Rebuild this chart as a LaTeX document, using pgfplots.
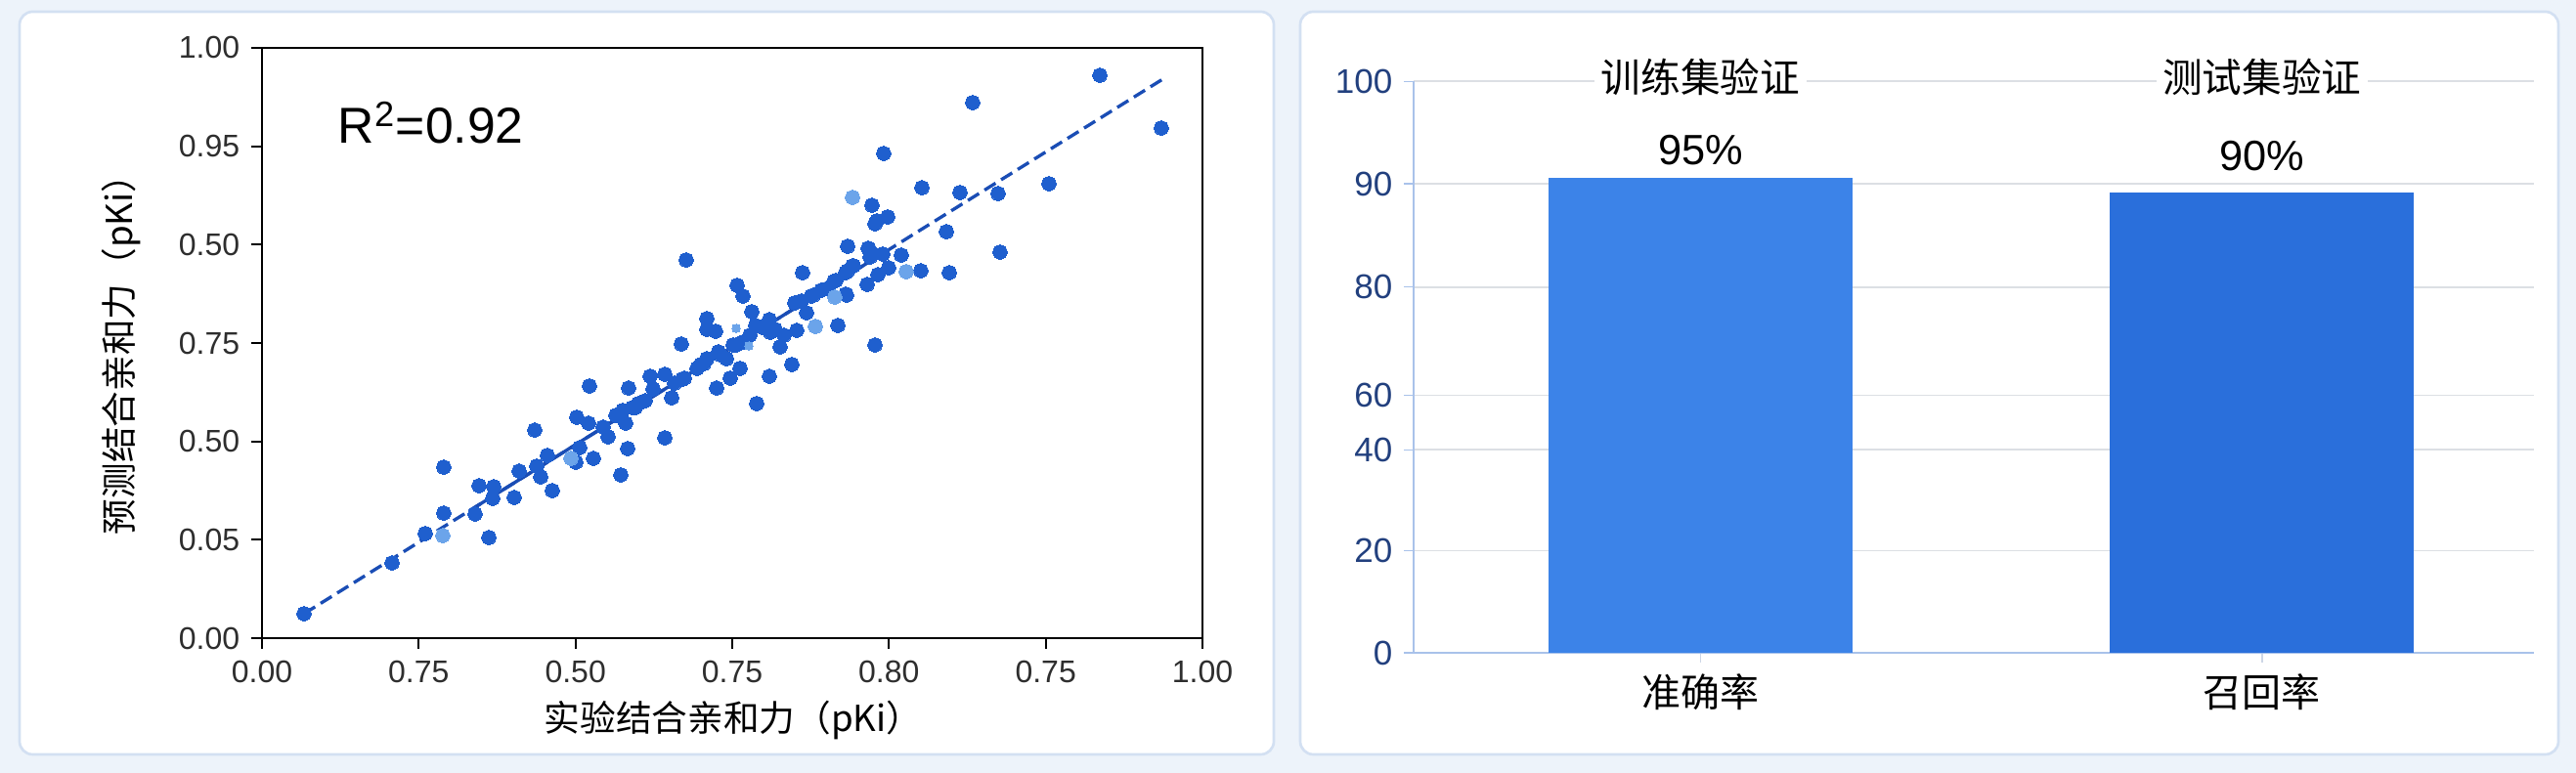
\documentclass[border=0pt]{standalone}
\usepackage{pgfplots}
\pgfplotsset{compat=1.18}
\usepackage{pgfplotstable}
\usepackage{fontspec}
\setmainfont{Liberation Sans}
\newfontfamily\cjk{Noto Sans CJK SC}
\definecolor{bgc}{HTML}{EDF3FA}
\definecolor{panelb}{HTML}{D3E0F2}
\definecolor{dotc}{HTML}{1F5FCE}
\definecolor{dotl}{HTML}{6BA4EA}
\definecolor{linec}{HTML}{1A4DB5}
\definecolor{barA}{HTML}{3C83E8}
\definecolor{barB}{HTML}{2A6FDB}
\definecolor{navy}{HTML}{22407E}
\definecolor{axblue}{HTML}{A9C2EA}
\definecolor{gridg}{HTML}{DCDFE4}

\pgfplotstableread{
x y
0.0447 0.0414
0.1383 0.1275
0.1736 0.1772
0.1933 0.2119
0.1933 0.2897
0.2266 0.2103
0.2412 0.1705
0.2308 0.2583
0.2464 0.2566
0.2453 0.2368
0.2682 0.2384
0.2734 0.2831
0.2900 0.3526
0.2921 0.2914
0.2963 0.2732
0.3087 0.2500
0.3035 0.3096
0.3347 0.3742
0.3378 0.3228
0.3337 0.2980
0.3472 0.3642
0.3524 0.3046
0.3482 0.4272
0.3628 0.3576
0.3680 0.3411
0.3815 0.2765
0.3888 0.3212
0.3898 0.4238
0.3867 0.3642
0.3836 0.3858
0.3971 0.3907
0.4075 0.4023
0.4127 0.4437
0.4158 0.4222
0.4283 0.3394
0.4283 0.4470
0.4356 0.4073
0.4470 0.4387
0.4459 0.4983
0.4511 0.6407
0.4667 0.4636
0.4730 0.4735
0.4834 0.4238
0.4854 0.4851
0.4979 0.4404
0.4938 0.4735
0.5042 0.4967
0.5083 0.4570
0.4730 0.5414
0.4730 0.5232
0.4823 0.5199
0.5052 0.5977
0.5114 0.5795
0.5208 0.5530
0.5249 0.5298
0.5187 0.5132
0.5260 0.3974
0.5395 0.4437
0.5395 0.5397
0.5405 0.5182
0.5509 0.4934
0.5551 0.5132
0.5634 0.4636
0.5686 0.5215
0.5665 0.5679
0.5790 0.5513
0.5748 0.6192
0.5863 0.5811
0.6019 0.5927
0.6123 0.5298
0.6081 0.6043
0.6216 0.5811
0.6227 0.6225
0.6289 0.6308
0.6227 0.6639
0.6435 0.5993
0.6518 0.4967
0.6455 0.6589
0.6466 0.6457
0.6549 0.6159
0.6601 0.6507
0.6663 0.6275
0.6798 0.6490
0.7006 0.6225
0.7308 0.6192
0.7277 0.6887
0.8909 0.9536
0.7557 0.9073
0.9563 0.8642
0.6611 0.8212
0.7017 0.7632
0.7422 0.7550
0.7827 0.7533
0.8368 0.7699
0.6486 0.7334
0.6653 0.7136
0.6538 0.7070
0.6518 0.7020
0.7848 0.6540
0.6445 0.6606
0.6102 0.6060
0.6206 0.5828
0.6206 0.6192
0.6279 0.6308
0.4626 0.4570
0.4699 0.4652
0.4875 0.4801
0.5010 0.4967
0.5114 0.5017
0.5322 0.5265
0.5457 0.5232
0.5738 0.5712
0.5842 0.5795
0.5946 0.5894
0.6497 0.6507
0.3940 0.3907
0.3763 0.3775
0.4002 0.3974
0.4387 0.4321
0.4491 0.4404
}\mainpts

\pgfplotstableread{
x y
0.1923 0.1738
0.3285 0.3046
0.5884 0.5281
0.6850 0.6209
0.6279 0.7467
0.6091 0.5778
}\lightpts

\pgfplotstableread{
x y
0.5042 0.5248
0.5177 0.4950
}\smallpts

\begin{document}
\begin{tikzpicture}
\path[use as bounding box] (0,0) rectangle (790.5pt,237.3pt);
\fill[bgc] (0,0) rectangle (790.5pt,237.3pt);
\filldraw[fill=white, draw=panelb, line width=0.8pt, rounded corners=4pt] (6pt,5.7pt) rectangle (390.9pt,233.7pt);
\filldraw[fill=white, draw=panelb, line width=0.8pt, rounded corners=4pt] (399pt,5.7pt) rectangle (785.1pt,233.7pt);

% ---------------- left: scatter ----------------
\begin{axis}[
  at={(80.4pt,41.4pt)}, anchor=south west, scale only axis,
  width=288.6pt, height=181.2pt,
  xmin=0, xmax=1, ymin=0, ymax=1,
  xtick={0,0.166667,0.333333,0.5,0.666667,0.833333,1},
  xticklabels={0.00,0.75,0.50,0.75,0.80,0.75,1.00},
  ytick={0,0.166667,0.333333,0.5,0.666667,0.833333,1},
  yticklabels={0.00,0.05,0.50,0.75,0.50,0.95,1.00},
  tick align=outside, tick pos=left, major tick length=3.3pt,
  axis line style={black, line width=0.6pt},
  tick style={black, line width=0.6pt},
  ticklabel style={font=\fontsize{9.6}{11}\selectfont, text=black!82},
  xlabel={\cjk 实验结合亲和力（pKi）},
  ylabel={\cjk 预测结合亲和力（pKi）},
  xlabel style={at={(axis description cs:0.501,-0.139)}, anchor=center, font=\fontsize{11}{13}\selectfont},
  ylabel style={at={(axis description cs:-0.1497,0.495)}, anchor=center, font=\fontsize{11}{13}\selectfont},
  clip=false,
]
\addplot[linec, line width=1pt, dash pattern=on 4pt off 2pt] coordinates {(0.0447,0.0414) (0.9595,0.9487)};
\addplot[linec, line width=1pt] coordinates {(0.2204,0.2157) (0.6601,0.6518)};
\addplot[only marks, mark=*, color=dotc, mark size=2.2pt, mark options={solid, draw=dotc, fill=dotc, line width=0pt}] table[x=x,y=y] {\mainpts};
\addplot[only marks, mark=*, color=dotl, mark size=2.2pt, mark options={solid, draw=dotl, fill=dotl, line width=0pt}] table[x=x,y=y] {\lightpts};
\addplot[only marks, mark=*, color=dotl, mark size=1.3pt, mark options={solid, draw=dotl, fill=dotl, line width=0pt}] table[x=x,y=y] {\smallpts};
\node[anchor=base west, font=\fontsize{15.5}{18}\selectfont] at (axis cs:0.0686,0.838) {R\textsuperscript{2}=0.92};
\end{axis}

% ---------------- right: bars ----------------
\begin{axis}[
  at={(433.8pt,36.9pt)}, anchor=south west, scale only axis,
  width=343.8pt, height=175.4pt,
  xmin=-0.511, xmax=1.484, ymin=0, ymax=100,
  ybar, bar width=93.3pt,
  xtick={0,1}, xticklabels={准确率,召回率},
  ytick={0,17.86,35.52,45.05,64.02,82.09,100},
  yticklabels={0,20,40,60,80,90,100},
  ymajorgrids, grid style={gridg, line width=0.5pt},
  axis x line*=bottom, axis y line*=left,
  x axis line style={axblue, line width=0.7pt},
  y axis line style={axblue, line width=0.4pt},
  tick align=outside, major tick length=3pt,
  ytick style={axblue, line width=0.4pt},
  xtick style={gridg!70!axblue, line width=0.4pt},
  yticklabel style={font=\fontsize{10.5}{12}\selectfont, text=navy},
  xticklabel style={font=\cjk\fontsize{12}{14}\selectfont, text=black},
  clip=false,
]
\addplot[fill=barA, draw=none, bar shift=0pt] coordinates {(0,83.12)};
\addplot[fill=barB, draw=none, bar shift=0pt] coordinates {(1,80.64)};
\node[font=\cjk\fontsize{12.2}{14}\selectfont, fill=white, inner xsep=2pt, inner ysep=1pt] at (axis cs:0,100.74) {训练集验证};
\node[font=\cjk\fontsize{12.2}{14}\selectfont, fill=white, inner xsep=2pt, inner ysep=1pt] at (axis cs:1,100.74) {测试集验证};
\node[anchor=base, font=\fontsize{13}{15}\selectfont] at (axis cs:0,85.51) {95\%};
\node[anchor=base, font=\fontsize{13}{15}\selectfont] at (axis cs:1,84.37) {90\%};
\end{axis}
\end{tikzpicture}
\end{document}
